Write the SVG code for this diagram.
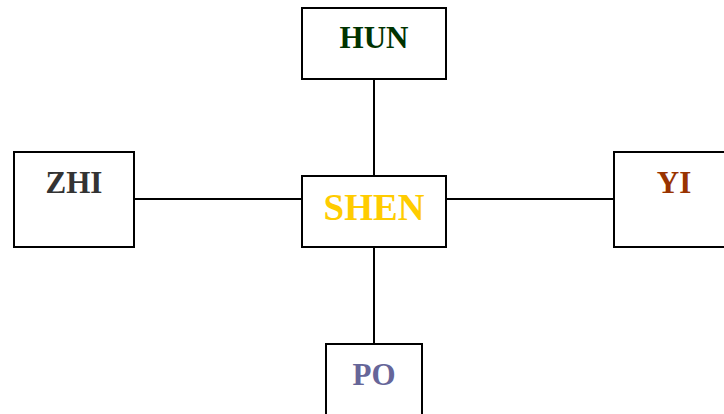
<svg xmlns="http://www.w3.org/2000/svg" width="724" height="414" viewBox="0 0 724 414">
<style>
.box{fill:#fff;stroke:#000;stroke-width:2}
.lbl{font-family:"Liberation Serif","Times New Roman",serif;font-weight:bold;font-size:31px;text-anchor:middle}
.con{stroke:#000;stroke-width:2;fill:none}
</style>
<rect width="724" height="414" fill="#fff"/>
<g id="connectors">
<line class="con" x1="374" y1="79" x2="374" y2="176"/>
<line class="con" x1="374" y1="247" x2="374" y2="344"/>
<line class="con" x1="134" y1="199" x2="302" y2="199"/>
<line class="con" x1="446" y1="199" x2="614" y2="199"/>
</g>
<g id="hun">
<rect class="box" x="302" y="8" width="144" height="71"/>
<text class="lbl" x="374" y="48" fill="#003300">HUN</text>
</g>
<g id="shen">
<rect class="box" x="302" y="176" width="144" height="71"/>
<text class="lbl" x="374" y="220" fill="#ffcc00" style="font-size:37px">SHEN</text>
</g>
<g id="zhi">
<rect class="box" x="14" y="152" width="120" height="95"/>
<text class="lbl" x="74" y="193" fill="#333333">ZHI</text>
</g>
<g id="yi">
<rect class="box" x="614" y="152" width="120" height="95"/>
<text class="lbl" x="674" y="193" fill="#993300">YI</text>
</g>
<g id="po">
<rect class="box" x="326" y="344" width="96" height="95"/>
<text class="lbl" x="374" y="385" fill="#666699">PO</text>
</g>
</svg>
